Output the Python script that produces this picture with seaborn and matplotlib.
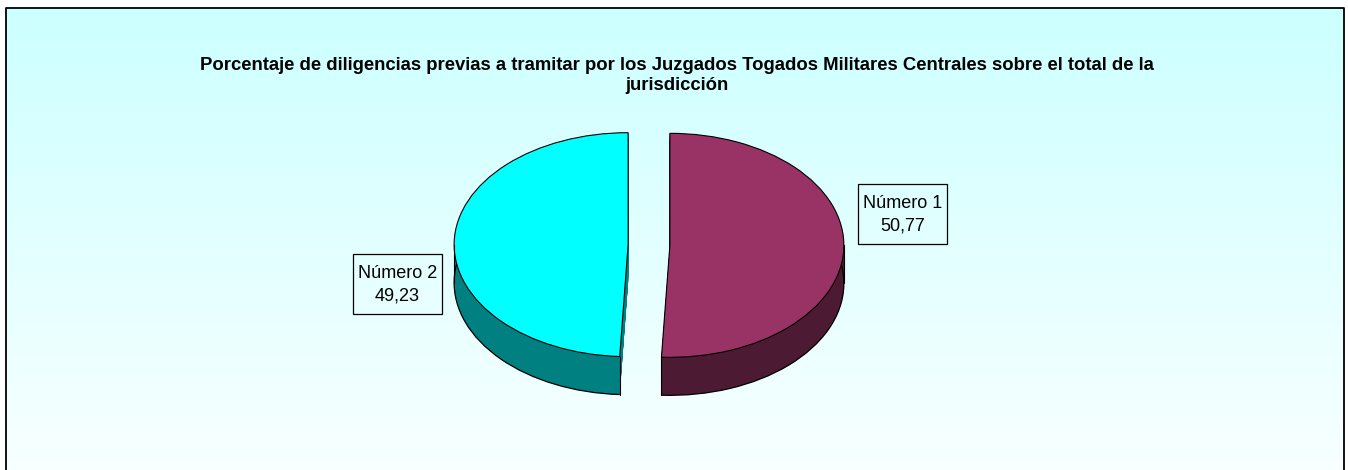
import matplotlib.pyplot as plt
import matplotlib.colors as mcolors
from matplotlib.patches import Rectangle, Arc
from matplotlib.transforms import Bbox, TransformedBbox
import numpy as np
import seaborn as sns

sns.set_theme(style='white')
plt.rcParams['font.family'] = ['Liberation Sans', 'DejaVu Sans']
plt.rcParams['text.color'] = 'black'

# Data
labels = ['Número 1', 'Número 2']
values = [50.77, 49.23]
top_colors = ['#993366', '#00FFFF']
side_colors = ['#4D1A33', '#008080']

title_line1 = ('Porcentaje de diligencias previas a tramitar por los Juzgados '
               'Togados Militares Centrales sobre el total de la')
title_line2 = 'jurisdicción'

W, H = 1348, 470
fig = plt.figure(figsize=(W / 100, H / 100), dpi=100)
fig.patch.set_facecolor('white')

# Background gradient and frame
bg = fig.add_axes([0, 0, 1, 1])
grad = np.linspace(0, 1, 256).reshape(-1, 1)
cmap = mcolors.LinearSegmentedColormap.from_list('bg', ['#CCFFFF', '#F8FFFF'])
bg.imshow(grad, aspect='auto', cmap=cmap, extent=[6, W - 4, H, 7.5], zorder=0)
bg.plot([6, 6, W - 4, W - 4], [H + 5, 7.5, 7.5, H + 5], color='black', lw=1.3)
bg.set_xlim(0, W)
bg.set_ylim(H, 0)
bg.axis('off')

# Pie axes: y stretched so circles render as ellipses (tilted 3D look)
ratio = 112 / 174
ax = fig.add_axes([0, 0, 1, 1])
ax.patch.set_alpha(0)

R = 174
cx = 649
cy = (H - 245) / ratio
depth = 38 / ratio
explode = [0.12 * R, 0.12 * R]  # pie offsets in data units
pie_kw = dict(startangle=90, counterclock=False, explode=explode, radius=R)

# side walls by stacking layers (first one is the bottom)
bottom = None
for d in np.arange(depth, 0, -0.5 / ratio):
    side, _ = ax.pie(values, colors=side_colors, center=(cx, cy - d),
                     wedgeprops=dict(linewidth=0), **pie_kw)
    if bottom is None:
        bottom = side

# bottom rim outline + cut edge of the side walls
for w in bottom:
    ax.add_patch(Arc(w.center, 2 * w.r, 2 * w.r,
                     theta1=w.theta1, theta2=w.theta2, color='black', lw=0.9))

# top face
wedges, _ = ax.pie(values, colors=top_colors, center=(cx, cy),
                   wedgeprops=dict(edgecolor='black', linewidth=0.8), **pie_kw)

# vertical silhouette edges
for w in wedges:
    x0, y0 = w.center
    for ang in (w.theta1, w.theta2, 0, 180, -180):
        if not (w.theta1 - 1e-6 <= ang <= w.theta2 + 1e-6):
            continue
        rad = np.deg2rad(ang)
        if ang in (w.theta1, w.theta2) and np.sin(rad) > -0.9:
            continue
        px = x0 + w.r * np.cos(rad)
        py = y0 + w.r * np.sin(rad)
        ax.plot([px, px], [py, py - depth], color='black', lw=0.8)

ax.set_aspect('auto')
ax.set_xlim(0, W)
ax.set_ylim(0, H / ratio)
ax.axis('off')

# Data labels with boxes
label_pos = [(902.5, 214), (397.5, 284)]
box_w, box_h = 89, 60
for lab, v, (lx, ly) in zip(labels, values, label_pos):
    txt = f'{lab}\n{v:.2f}'.replace('.', ',')
    fig.text(lx / W, 1 - (ly + 1) / H, txt, ha='center', va='center',
             multialignment='center', fontsize=13, linespacing=1.4)
    fig.patches.append(Rectangle(((lx - box_w / 2) / W, 1 - (ly + box_h / 2) / H),
                                 box_w / W, box_h / H, transform=fig.transFigure,
                                 fill=False, edgecolor='black', lw=0.9))

# Title (first line clipped like the original)
clip = TransformedBbox(Bbox.from_extents(0, 0, 1154 / W, 1), fig.transFigure)
t1 = fig.text(677 / W, 1 - 65 / H, title_line1, ha='center', va='center',
              fontsize=13.35, fontweight='bold')
t1.set_clip_on(True)
t1.set_clip_box(clip)
fig.text(677 / W, 1 - 85.5 / H, title_line2, ha='center', va='center',
         fontsize=13.35, fontweight='bold')

fig.savefig('out.png', dpi=100)
